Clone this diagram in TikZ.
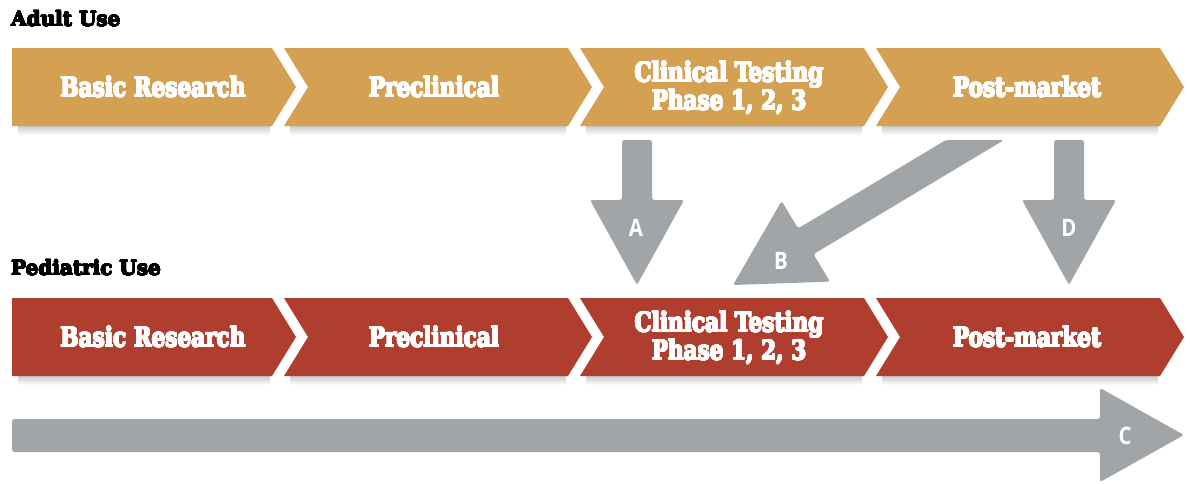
\documentclass[tikz,border=0pt]{standalone}
\usepackage{fontspec}
\usepackage{contour}
\contournumber{24}
\newfontfamily\stagefont[FakeStretch=0.8]{DejaVu Serif}
\newfontfamily\headfont{DejaVu Serif}
\newfontfamily\letterfont[FakeStretch=0.85]{Open Sans}
\definecolor{adultgold}{RGB}{212,160,82}
\definecolor{pedred}{RGB}{176,62,46}
\definecolor{arrowgray}{RGB}{162,165,168}

% heavier lettering: the glyphs are traced with an outline of their own colour
\newcommand\heavywhite[1]{\contourlength{0.55pt}\contour{white}{#1}}
\newcommand\heavyblack[1]{\contourlength{0.35pt}\contour{black}{#1}}

% chevron: colour, left x, right x, top y, bottom y
\newcommand\firstchevron[5]{%
  \shade[top color=black!28, bottom color=white, opacity=0.8]
    ({#2+6},{#5-1}) rectangle ({#3-2},{#5+9});
  \fill[#1] (#2,#4) -- (#3,#4) -- ({#3+24},{(#4+#5)/2}) -- (#3,#5) -- (#2,#5) -- cycle;}
\newcommand\nextchevron[5]{%
  \shade[top color=black!28, bottom color=white, opacity=0.8]
    ({#2+6},{#5-1}) rectangle ({#3-2},{#5+9});
  \fill[#1] (#2,#4) -- (#3,#4) -- ({#3+24},{(#4+#5)/2}) -- (#3,#5) -- (#2,#5)
    -- ({#2+24},{(#4+#5)/2}) -- cycle;}

\begin{document}
\begin{tikzpicture}[x=1pt,y=-1pt,
  stage/.style={text=white, align=center, inner sep=0pt,
    font=\stagefont\bfseries\fontsize{27}{26}\selectfont},
  rowhead/.style={anchor=west, inner sep=0pt,
    font=\headfont\bfseries\fontsize{20}{22}\selectfont},
  letter/.style={text=white, inner sep=0pt,
    font=\letterfont\bfseries\fontsize{24}{24}\selectfont},
  blockarrow/.style={fill=arrowgray, rounded corners=2.5pt}]
\useasboundingbox[fill=white] (0,0) rectangle (1190,483);

% row headings
\node[rowhead] (adult) at (11,19) {\heavyblack{Adult Use}};
\node[rowhead] (ped) at (11,268) {\heavyblack{Pediatric Use}};

% adult pipeline
\firstchevron{adultgold}{12}{272}{48}{126}
\nextchevron{adultgold}{284}{568}{48}{126}
\nextchevron{adultgold}{580}{864}{48}{126}
\nextchevron{adultgold}{876}{1160}{48}{126}

% pediatric pipeline
\firstchevron{pedred}{12}{272}{298}{376}
\nextchevron{pedred}{284}{568}{298}{376}
\nextchevron{pedred}{580}{864}{298}{376}
\nextchevron{pedred}{876}{1160}{298}{376}

\node[stage] (a1) at (153,87) {\heavywhite{Basic Research}};
\node[stage] (a2) at (434,87) {\heavywhite{Preclinical}};
\node[stage] (a3) at (729,88) {\heavywhite{Clinical Testing}\\\heavywhite{Phase 1, 2, 3}};
\node[stage] (a4) at (1027,87) {\heavywhite{Post-market}};

\node[stage] (p1) at (153,337) {\heavywhite{Basic Research}};
\node[stage] (p2) at (434,337) {\heavywhite{Preclinical}};
\node[stage] (p3) at (729,338) {\heavywhite{Clinical Testing}\\\heavywhite{Phase 1, 2, 3}};
\node[stage] (p4) at (1027,337) {\heavywhite{Post-market}};

% arrow A: adult clinical testing -> pediatric clinical testing
\fill[blockarrow] (622,140) -- (652,140) -- (652,200) -- (684,200) -- (637,285)
  -- (590,200) -- (622,200) -- cycle;
\node[letter] (la) at (636,228) {A};

% arrow D: adult post-market -> pediatric post-market
\fill[blockarrow] (1054,140) -- (1084,140) -- (1084,200) -- (1116,200) -- (1069,285)
  -- (1022,200) -- (1054,200) -- cycle;
\node[letter] (ld) at (1069,228) {D};

% arrow B: adult post-market -> pediatric clinical testing
\fill[blockarrow] (946,140) -- (1004,140) -- (813.5,254.2) -- (830,281.6) -- (733,285)
  -- (781.6,201) -- (798.1,228.4) -- cycle;
\node[letter] (lb) at (781,261) {B};

% arrow C: running along the whole pediatric timeline
\fill[blockarrow] (12,419) -- (1100,419) -- (1100,388) -- (1184,435) -- (1100,482)
  -- (1100,452) -- (12,452) -- cycle;
\node[letter] (lc) at (1125,436) {C};
\end{tikzpicture}
\end{document}
